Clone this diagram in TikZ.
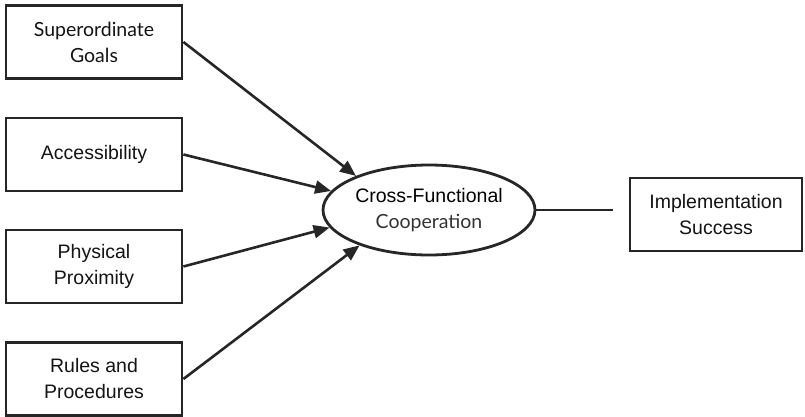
\documentclass[tikz,border=0pt]{standalone}
\usepackage{fontspec}
\setmainfont{Liberation Sans}
\newfontfamily\humanist{Lato}
\usetikzlibrary{shapes.geometric,arrows.meta}

\tikzset{
  factor/.style={draw=black!85, line width=2.8pt, fill=white, rectangle,
    minimum width=176pt, minimum height=73pt, inner sep=0pt, align=center,
    font=\fontsize{19.5}{26}\selectfont, text=black!92},
  hub/.style={draw=black!85, line width=2.8pt, ellipse, fill=white,
    minimum width=212pt, minimum height=90pt, inner sep=0pt, align=center,
    font=\fontsize{19.5}{26}\selectfont},
  link/.style={draw=black!85, line width=2.6pt,
    -{Triangle[length=16pt,width=13pt]}},
  plain/.style={draw=black!85, line width=2.6pt}
}

\begin{document}
\begin{tikzpicture}[x=1pt,y=-1pt]
  \useasboundingbox (0,0) rectangle (805,417);

  % input factors
  \node[factor] (goals)  at (94,42)    {{\humanist Superordinate}\\{\humanist Goals}};
  \node[factor] (access) at (94,154.5) {Accessibility};
  \node[factor] (prox)   at (94,266.5) {Physical\\Proximity};
  \node[factor] (rules)  at (94,379)   {Rules and\\Procedures};

  % central construct and outcome
  \node[hub] (coop) at (429,210) {Cross-Functional\\{\humanist\color{black!80}Cooperation}};
  \node[factor, minimum width=172pt] (impl) at (716,214.5) {Implementation\\Success};

  % influences on cooperation
  \draw[link] (goals.east)  -- (coop.155);
  \draw[link] (access.east) -- (coop.169);
  \draw[link] (prox.east)   -- (coop.190);
  \draw[link] (rules.east)  -- (coop.207);

  % line toward the outcome, stopping short of its box
  \coordinate (gap) at (613,210);
  \draw[plain] (coop.east) -- (gap);
\end{tikzpicture}
\end{document}
